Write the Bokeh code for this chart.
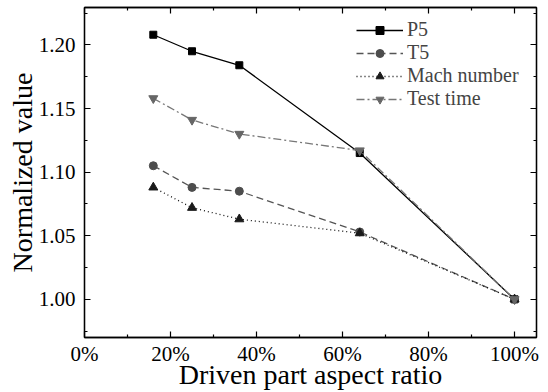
from bokeh.plotting import figure
from bokeh.models import (LinearAxis, Range1d, FixedTicker, PrintfTickFormatter,
                          CustomJSTickFormatter, Legend, LegendItem)
from bokeh.embed import file_html
from bokeh.resources import INLINE

# ---- data ----
ratio_pct = [16, 25, 36, 64, 100]
p5 = [1.208, 1.195, 1.184, 1.115, 1.000]
t5 = [1.105, 1.088, 1.085, 1.053, 1.000]
mach = [1.088, 1.072, 1.063, 1.052, 1.000]
test_time = [1.158, 1.141, 1.130, 1.117, 1.000]
x_ticks = [0, 20, 40, 60, 80, 100]
x_minor = [10, 30, 50, 70, 90]
y_ticks = [1.00, 1.05, 1.10, 1.15, 1.20]
y_minor = [0.975, 1.025, 1.075, 1.125, 1.175, 1.225]
x_title = "Driven part aspect ratio"
y_title = "Normalized value"

FONT = "Liberation Serif"

p = figure(width=548, height=392, output_backend="svg", toolbar_location=None,
           x_range=Range1d(0, 105.1), y_range=Range1d(0.970, 1.2294),
           min_border_left=84, min_border_right=12, min_border_top=7,
           min_border_bottom=52, x_axis_location=None, y_axis_location=None)
p.grid.visible = False
p.background_fill_color = "white"
p.border_fill_color = "white"
p.outline_line_color = "black"
p.outline_line_width = 1.3


def style_axis(ax, ticks, minor, show_labels):
    ax.ticker = FixedTicker(ticks=ticks, minor_ticks=minor)
    ax.axis_line_color = "black"
    ax.axis_line_width = 1.3
    ax.major_tick_in = 6
    ax.major_tick_out = 0
    ax.minor_tick_in = 3
    ax.minor_tick_out = 0
    ax.major_tick_line_width = 1.2
    ax.minor_tick_line_width = 1.2
    ax.major_label_text_font = FONT
    ax.major_label_text_font_size = "21px"
    ax.major_label_text_color = "black"
    ax.axis_label_text_font = FONT
    ax.axis_label_text_font_size = "28px"
    ax.axis_label_text_font_style = "normal"
    ax.axis_label_text_color = "black"
    if not show_labels:
        ax.formatter = CustomJSTickFormatter(code="return ''")
        ax.major_label_standoff = 0


xb = LinearAxis(axis_label=x_title, formatter=PrintfTickFormatter(format="%d%%"))
style_axis(xb, x_ticks, x_minor, True)
xb.major_label_standoff = 4
xb.axis_label_standoff = -10
p.add_layout(xb, "below")

yl = LinearAxis(axis_label=y_title, formatter=PrintfTickFormatter(format="%.2f"))
style_axis(yl, y_ticks, y_minor, True)
yl.major_label_standoff = 9
yl.axis_label_standoff = -2
p.add_layout(yl, "left")

xt = LinearAxis()
style_axis(xt, x_ticks, x_minor, False)
p.add_layout(xt, "above")

yr = LinearAxis()
style_axis(yr, y_ticks, y_minor, False)
p.add_layout(yr, "right")

series = [
    ("P5", p5, "black", "solid", "square", "black", 7),
    ("T5", t5, "#555555", "7 4", "circle", "#4d4d4d", 8),
    ("Mach number", mach, "#111111", "1 3", "triangle", "#1a1a1a", 9),
    ("Test time", test_time, "#777777", "8 3 2 3", "inverted_triangle", "#666666", 9),
]

items = []
for name, ys, lc, dash, marker, mc, sz in series:
    r1 = p.line(ratio_pct, ys, line_color=lc, line_width=1.3, line_dash=dash)
    r2 = p.scatter(ratio_pct, ys, marker=marker, size=sz, fill_color=mc,
                   line_color=mc)
    items.append(LegendItem(label=name, renderers=[r1, r2]))

legend = Legend(items=items, location=(272, 227))
legend.border_line_color = None
legend.background_fill_alpha = 0
legend.label_text_font = FONT
legend.label_text_font_size = "20px"
legend.glyph_width = 47
legend.glyph_height = 20
legend.label_height = 20
legend.spacing = 0
legend.label_standoff = 4
legend.margin = 0
legend.padding = 0
p.add_layout(legend, "center")

open("out.html", "w").write(file_html(p, INLINE))
